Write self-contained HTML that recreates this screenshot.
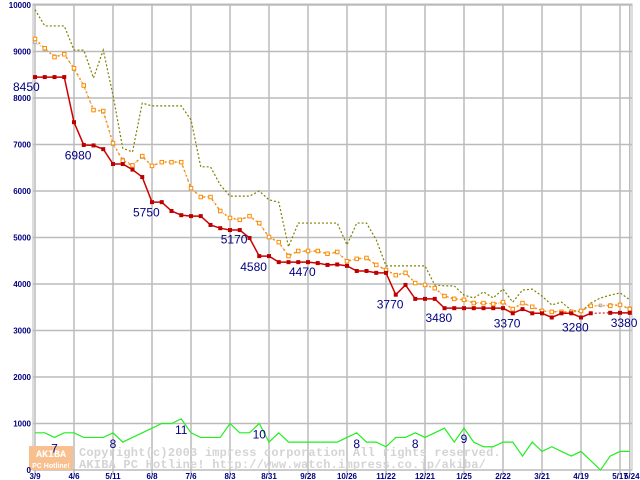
<!DOCTYPE html>
<html><head><meta charset="utf-8"><style>
html,body{margin:0;padding:0;background:#fff;width:640px;height:480px;overflow:hidden}
svg{display:block}
</style></head><body>
<svg id="chart" width="640" height="480" xmlns="http://www.w3.org/2000/svg" font-family="'Liberation Sans',sans-serif">
<g id="grid"></g>
<g id="watermark">
<rect x="29" y="446" width="44" height="24" fill="#f9c08f"/>
<text x="51" y="457" text-anchor="middle" font-size="10" font-weight="bold" fill="#fff" font-family="'Liberation Mono',monospace">AKIBA</text>
<text x="51" y="468" text-anchor="middle" font-size="7" font-weight="bold" fill="#fff">PC Hotline!</text>
<text x="79" y="456" font-size="12" font-weight="bold" fill="#d4d4d4" font-family="'Liberation Mono',monospace" letter-spacing="0.2">Copyright(c)2003 impress corporation All rights reserved.</text>
<text x="79" y="468" font-size="12" font-weight="bold" fill="#d4d4d4" font-family="'Liberation Mono',monospace" letter-spacing="0.2">AKIBA PC Hotline!  http://www.watch.impress.co.jp/akiba/</text>
</g>
<g id="series"></g>
<g id="labels"></g>
</svg>
<script>
const dateLabels=["3/9","4/6","5/11","6/8","7/6","8/3","8/31","9/28","10/26","11/22","12/21","1/25","2/22","3/21","4/19","5/17","5/24"];
const dateWeeks=[0,4,8,12,16,20,24,28,32,36,40,44,48,52,56,60,61];
const yTicks=[0,1000,2000,3000,4000,5000,6000,7000,8000,9000,10000];
const minPrice=[8450,8450,8450,8450,7480,6990,6980,6900,6580,6580,6460,6300,5760,5760,5570,5480,5460,5460,5270,5200,5160,5160,4990,4600,4600,4470,4470,4470,4470,4450,4410,4420,4390,4280,4280,4240,4240,3770,3980,3680,3680,3680,3480,3480,3480,3480,3480,3480,3480,3370,3460,3370,3370,3280,3370,3370,3280,3370,null,3380,3380,3380];
const avgPrice=[9270,9070,8880,8940,8640,8270,7740,7720,7030,6650,6550,6750,6540,6620,6620,6620,6060,5870,5870,5570,5420,5380,5460,5310,5010,4900,4600,4710,4710,4710,4650,4690,4490,4540,4560,4410,4300,4190,4240,4020,3980,3910,3740,3680,3660,3590,3590,3570,3610,3460,3590,3510,3420,3400,3400,3400,3420,3530,null,3530,3550,3460];
const refPrice=[9200,9050,8900,8950,8620,8260,7750,7700,7000,6680,6560,6730,6540,6620,6620,6620,6060,5880,5870,5560,5420,5380,5450,5300,5000,4890,4620,4700,4700,4700,4650,4680,4500,4540,4550,4410,4310,4190,4240,4020,3980,3900,3740,3690,3660,3600,3590,3570,3600,3470,3590,3510,3430,3410,3410,3400,3430,3520,3540,3550,3560,3480];
const maxPrice=[9900,9550,9550,9550,9030,9030,8430,9030,8060,6920,6840,7890,7830,7830,7830,7830,7530,6520,6520,6130,5890,5890,5890,6000,5810,5760,4800,5310,5310,5310,5310,5310,4840,5310,5310,4950,4390,4390,4390,4390,4390,3980,3960,3960,3760,3700,3830,3700,3890,3610,3870,3890,3740,3550,3610,3440,3400,3590,3700,3760,3810,3660];
const shopCount=[8,8,7,8,8,7,7,7,8,6,7,8,9,10,10,11,8,7,7,7,10,8,8,10,6,8,6,6,6,6,6,6,7,8,6,6,5,7,7,8,7,8,9,6,9,6,5,5,6,6,3,6,4,5,4,3,4,2,0,3,4,4];
const priceLabels=[[0,8450],[5,6980],[12,5750],[21,5170],[23,4580],[28,4470],[37,3770],[42,3480],[49,3370],[56,3280],[61,3380]];
const countLabels=[[2,7],[8,8],[15,11],[23,10],[33,8],[39,8],[44,9]];

const NS="http://www.w3.org/2000/svg";
const X0=35,DX=9.75,Y0=470,SY=0.0465;
const x=i=>X0+i*DX, y=v=>Y0-v*SY;
function mk(tag,attrs,parent){const e=document.createElementNS(NS,tag);for(const k in attrs)e.setAttribute(k,attrs[k]);parent.appendChild(e);return e;}
const grid=document.getElementById('grid'),ser=document.getElementById('series'),lab=document.getElementById('labels');
mk('rect',{x:33,y:4,width:599,height:466,fill:'none',stroke:'#bbbbbb'},grid);
yTicks.forEach(v=>{
 const l=mk('line',{x1:33,x2:632,y1:y(v),y2:y(v),stroke:'#bbbbbb','stroke-width':1.5},grid);
 
 
 const t=mk('text',{x:31,y:y(v)+3,'text-anchor':'end','font-size':8,'font-weight':'bold',fill:'#000080'},lab);
 t.textContent=v;
 
 
});
dateWeeks.forEach((w,k)=>{
 const l=mk('line',{x1:x(w),x2:x(w),y1:4,y2:474,stroke:'#bbbbbb','stroke-width':1.5},grid);
 
 
 const t=mk('text',{x:x(w)+(k==16?2:0),y:479,'text-anchor':'middle','font-size':8,'font-weight':'bold',fill:'#000080'},lab);
 t.textContent=dateLabels[k];
 
 
});
function line(arr,color,dash,width,name){
 let segs=[],cur=[];
 arr.forEach((v,i)=>{if(v==null){if(cur.length)segs.push(cur);cur=[];}else cur.push(x(i)+','+y(v));});
 if(cur.length)segs.push(cur);
 segs.forEach(s=>{const p=mk('polyline',{points:s.join(' '),fill:'none',stroke:color,'stroke-width':width,'stroke-dasharray':dash},ser);
  
  });
 for(let i=1;i<arr.length-1;i++){if(arr[i]==null&&arr[i-1]!=null&&arr[i+1]!=null){
  const p=mk('line',{x1:x(i-1),y1:y(arr[i-1]),x2:x(i+1),y2:y(arr[i+1]),stroke:color,'stroke-width':1,'stroke-dasharray':'2,2'},ser);
  
  }}
}
function marks(arr,color,fill,size,name){
 arr.forEach((v,i)=>{if(v==null)return;
  const r=mk('rect',{x:x(i)-size/2,y:y(v)-size/2,width:size,height:size,fill:fill,stroke:color,'stroke-width':1},ser);
  
  });
}
line(shopCount.map(c=>c*100),'#22ee22','',1.2,'shop-count-line');
line(maxPrice,'#808000','2,2',1.2,'max-price-line');
line(refPrice,'#aaaaaa','1,2',1,'ref-price-line');
marks(refPrice,'#aaaaaa','#fff',2.5,'ref-price-point');
line(avgPrice,'#ff8c00','2,3',1.5,'avg-price-line');
marks(avgPrice,'#ff8c00','#fff',3.5,'avg-price-point');
line(minPrice,'#cc0000','',1.5,'min-price-line');
marks(minPrice,'#bb0000','#bb0000',3,'min-price-point');
priceLabels.forEach(([i,v])=>{
 const t=mk('text',{x:x(i)-22+(i==0?0:3),y:y(v)+14,'font-size':12,fill:'#000080'},lab);
 t.textContent=v;
 
 
});
countLabels.forEach(([i,c])=>{
 const t=mk('text',{x:x(i),y:y(c*100)+15,'text-anchor':'middle','font-size':12,fill:'#000080'},lab);
 t.textContent=c;
 
 
});
</script>
</body></html>
